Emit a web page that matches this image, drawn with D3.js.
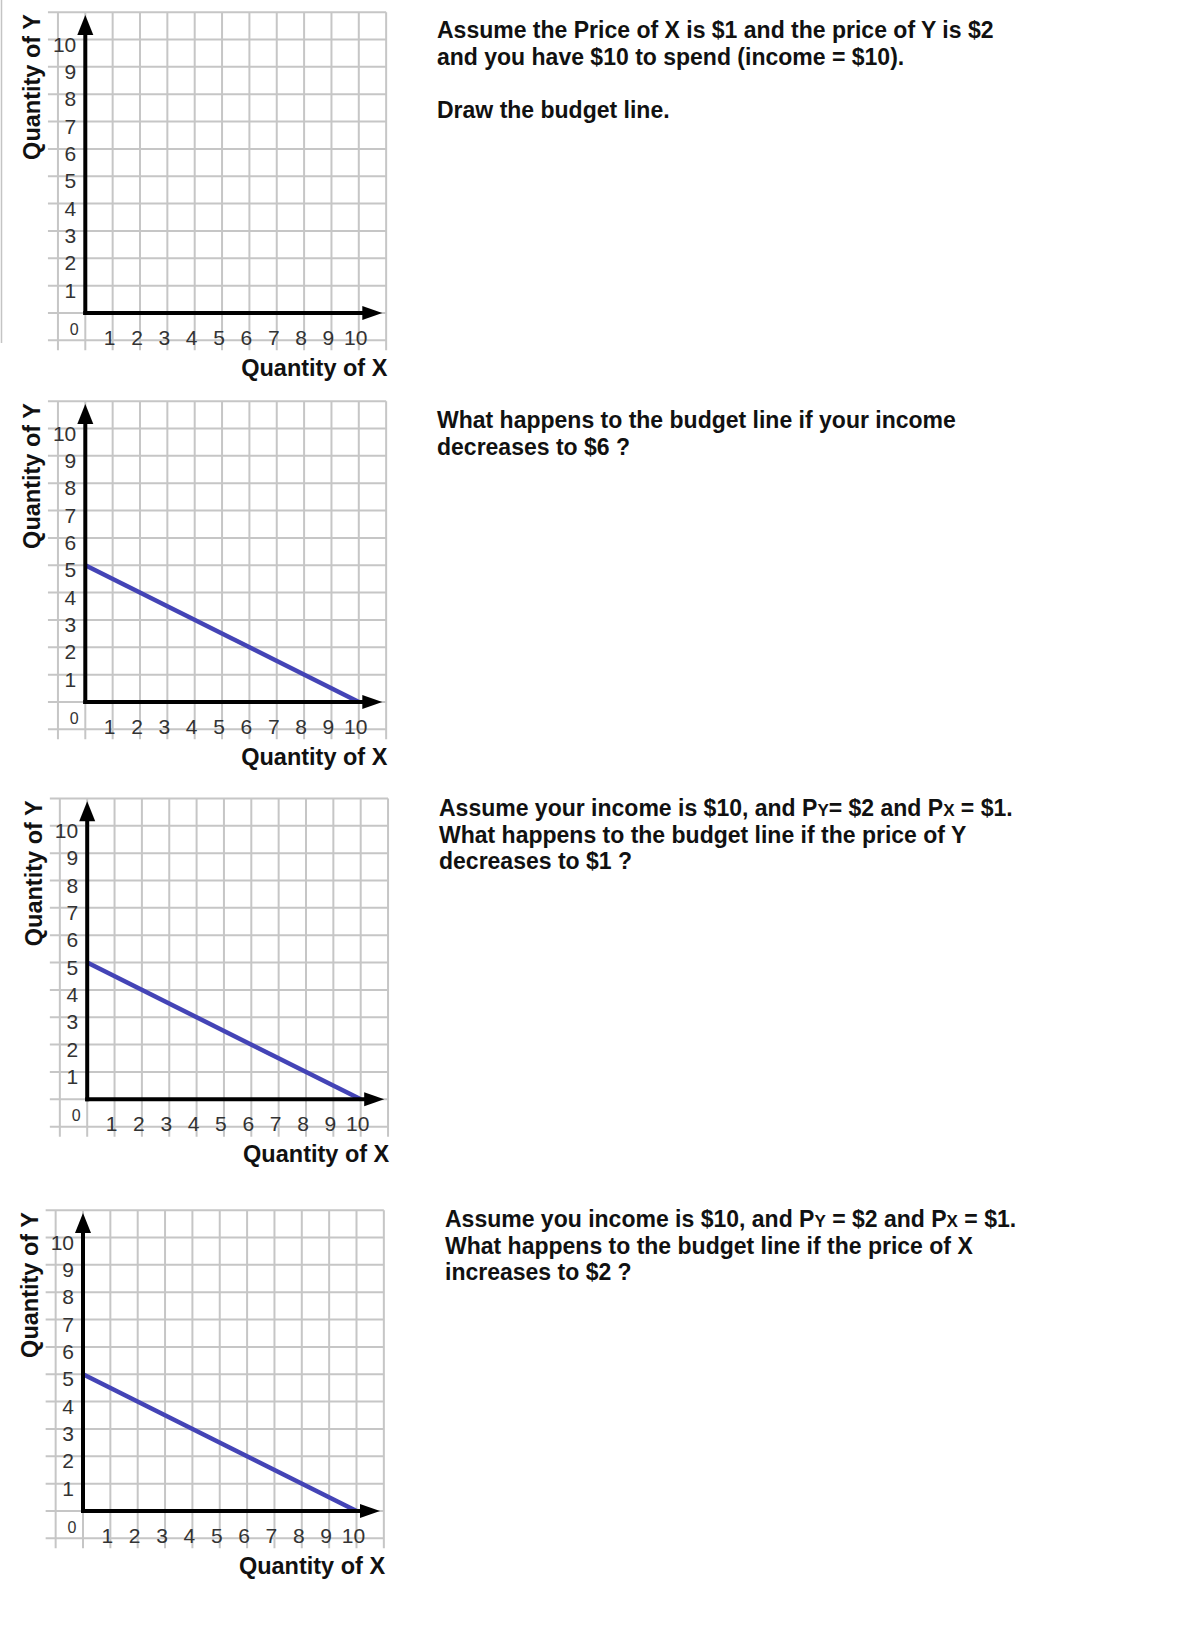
<!DOCTYPE html>
<html>
<head>
<meta charset="utf-8">
<title>Budget line worksheet</title>
<script src="https://cdn.jsdelivr.net/npm/d3@7/dist/d3.min.js"></script>
<style>
    html, body { margin: 0; padding: 0; background: #fff; }
    svg { display: block; }
</style>
</head>
<body>
<div id="sheet"></div>
<script>
var xTicks = [1, 2, 3, 4, 5, 6, 7, 8, 9, 10];
var yTicks = [1, 2, 3, 4, 5, 6, 7, 8, 9, 10];
var gridSteps = [-1, 0, 1, 2, 3, 4, 5, 6, 7, 8, 9, 10, 11];
var budgetQx = [0, 10];
var budgetQy = [5, 0];
var showBudget = [false, true, true, true];
var xTitle = "Quantity of X";
var yTitle = "Quantity of Y";
var questions = [
    ["Assume the Price of X is $1 and the price of Y is $2",
     "and you have $10 to spend (income = $10).",
     "",
     "Draw the budget line."],
    ["What happens to the budget line if your income",
     "decreases to $6 ?"],
    ["Assume your income is $10, and PY= $2 and PX = $1.",
     "What happens to the budget line if the price of Y",
     "decreases to $1 ?"],
    ["Assume you income is $10, and PY = $2 and PX = $1.",
     "What happens to the budget line if the price of X",
     "increases to $2 ?"]
];

(function drawSheet (d3) {
    "use strict";
    var width = 1201,
        height = 1636,
        unit = 27.35,
        lineGap = 26.5,
        font = "'Liberation Sans', Arial, sans-serif",
        // pixel position of (0,0) for each little graph
        panelOrigins = [[85.3, 313], [85.3, 702], [87.2, 1099.3], [83, 1511]],
        // first baseline of each question block
        textOrigins = [[437, 38], [437, 428], [439, 816], [445, 1227]],
        svg;

    svg = d3.select("#sheet").append("svg")
        .attr("width", width)
        .attr("height", height);

    svg.append("rect")
        .attr("width", width)
        .attr("height", height)
        .attr("fill", "#fff");

    // faint scan edge on the left of the first graph
    svg.append("line")
        .attr("x1", 1.5).attr("x2", 1.5)
        .attr("y1", 0).attr("y2", 343)
        .attr("stroke", "#c4c4c4")
        .attr("stroke-width", 1.5);

    /**
     * Draws one grid with axes, tick numbers, titles and (maybe) the budget line
     * @param  {Number} i panel index
     */
    function drawPanel (i) {
        var o = panelOrigins[i],
            g = svg.append("g").attr("class", "panel panel-" + i),
            x = d3.scaleLinear().domain([0, 10]).range([o[0], o[0] + 10 * unit]),
            y = d3.scaleLinear().domain([0, 10]).range([o[1], o[1] - 10 * unit]);

        // graph paper
        g.append("g").attr("class", "vgrid")
            .selectAll("line").data(gridSteps).join("line")
            .attr("x1", function (d) { return x(d); })
            .attr("x2", function (d) { return x(d); })
            .attr("y1", y(11))
            .attr("y2", y(-1) + 10)
            .attr("stroke", "#c6c6c6")
            .attr("stroke-width", 2);

        g.append("g").attr("class", "hgrid")
            .selectAll("line").data(gridSteps).join("line")
            .attr("x1", x(-1) - 10)
            .attr("x2", x(11))
            .attr("y1", function (d) { return y(d); })
            .attr("y2", function (d) { return y(d); })
            .attr("stroke", "#c6c6c6")
            .attr("stroke-width", 2);

        // tick numbers
        g.append("g").attr("class", "xlabels")
            .selectAll("text").data(xTicks).join("text")
            .attr("x", function (d) { return x(d) - 3; })
            .attr("y", o[1] + 32)
            .attr("text-anchor", "middle")
            .attr("font-family", font)
            .attr("font-size", 21)
            .attr("fill", "#333")
            .text(function (d) { return d; });

        g.append("g").attr("class", "ylabels")
            .selectAll("text").data(yTicks).join("text")
            .attr("x", o[0] - 9)
            .attr("y", function (d) { return y(d) + 12; })
            .attr("text-anchor", "end")
            .attr("font-family", font)
            .attr("font-size", 21)
            .attr("fill", "#333")
            .text(function (d) { return d; });

        g.append("text")
            .attr("x", o[0] - 11)
            .attr("y", o[1] + 22)
            .attr("text-anchor", "middle")
            .attr("font-family", font)
            .attr("font-size", 16)
            .attr("fill", "#333")
            .text(0);

        // budget line
        if (showBudget[i]) {
            g.append("path")
                .datum(d3.zip(budgetQx, budgetQy))
                .attr("d", d3.line()
                    .x(function (d) { return x(d[0]); })
                    .y(function (d) { return y(d[1]); }))
                .attr("fill", "none")
                .attr("stroke", "#4444b6")
                .attr("stroke-width", 4.5);
        }

        // axes with arrow heads
        var yTip = o[1] - 298,
            xTip = o[0] + 297;
        g.append("line")
            .attr("x1", o[0]).attr("x2", o[0])
            .attr("y1", o[1] + 2).attr("y2", yTip + 18)
            .attr("stroke", "#000").attr("stroke-width", 4);
        g.append("line")
            .attr("x1", o[0] - 2).attr("x2", xTip - 18)
            .attr("y1", o[1]).attr("y2", o[1])
            .attr("stroke", "#000").attr("stroke-width", 4);
        g.append("path")
            .attr("d", "M" + o[0] + "," + yTip + "L" + (o[0] + 8) + "," + (yTip + 20) +
                "L" + (o[0] - 8) + "," + (yTip + 20) + "Z")
            .attr("fill", "#000");
        g.append("path")
            .attr("d", "M" + xTip + "," + o[1] + "L" + (xTip - 20) + "," + (o[1] - 7) +
                "L" + (xTip - 20) + "," + (o[1] + 7) + "Z")
            .attr("fill", "#000");

        // axis titles
        g.append("text")
            .attr("transform", "translate(" + (o[0] - 45) + "," + (o[1] - 226) + ")rotate(-90)")
            .attr("text-anchor", "middle")
            .attr("font-family", font)
            .attr("font-weight", "bold")
            .attr("font-size", 23.5)
            .attr("fill", "#111")
            .text(yTitle);

        g.append("text")
            .attr("x", o[0] + 229)
            .attr("y", o[1] + 63)
            .attr("text-anchor", "middle")
            .attr("font-family", font)
            .attr("font-weight", "bold")
            .attr("font-size", 23.5)
            .attr("fill", "#111")
            .text(xTitle);
    }

    /**
     * Writes a question block; the X / Y after a P are set smaller like in the sheet
     * @param  {Number} i panel index
     */
    function drawQuestion (i) {
        var t = textOrigins[i],
            block = svg.append("text")
                .attr("font-family", font)
                .attr("font-weight", "bold")
                .attr("font-size", 23)
                .attr("fill", "#111");

        questions[i].forEach(function (line, k) {
            var row = block.append("tspan")
                .attr("x", t[0])
                .attr("y", t[1] + k * lineGap);
            line.split(/(P[XY](?![a-z]))/).forEach(function (part) {
                if (!part) return;
                if (/^P[XY]$/.test(part)) {
                    row.append("tspan").text("P");
                    row.append("tspan").attr("font-size", 17).text(part.charAt(1));
                } else {
                    row.append("tspan").text(part);
                }
            });
        });
    }

    for (var i = 0; i < panelOrigins.length; i++) {
        drawPanel(i);
        drawQuestion(i);
    }
})(window.d3);
</script>
</body>
</html>
